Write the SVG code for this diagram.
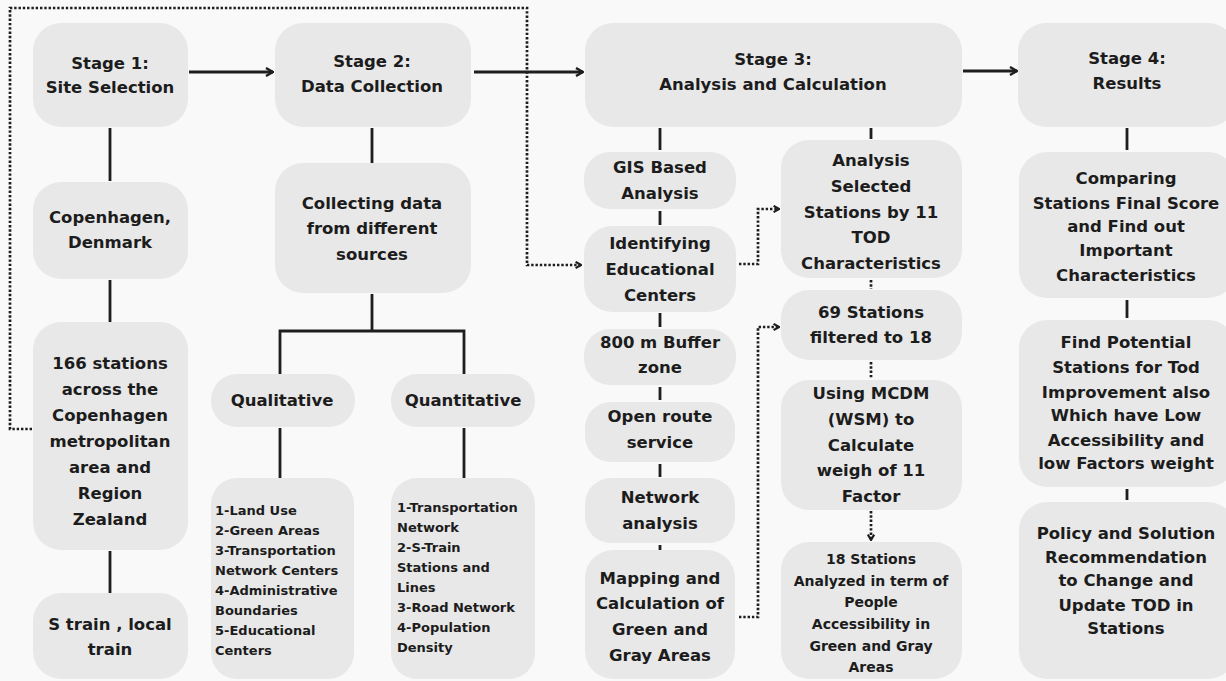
<svg xmlns="http://www.w3.org/2000/svg" width="1226" height="681" viewBox="0 0 1226 681">
<defs>
<style>
.bg{fill:#f9f9f9}
.box{fill:#e8e8e8}
.t{font-family:"DejaVu Sans","Liberation Sans",sans-serif;font-weight:700;font-size:16.5px;fill:#1c1c1c;text-anchor:middle}
.s{font-family:"DejaVu Sans","Liberation Sans",sans-serif;font-weight:700;font-size:13px;fill:#1c1c1c}
.m{font-family:"DejaVu Sans","Liberation Sans",sans-serif;font-weight:700;font-size:14px;fill:#1c1c1c;text-anchor:middle}
.ln{stroke:#1e1e1e;stroke-width:2.8;fill:none}
.dot{stroke:#1e1e1e;stroke-width:2.7;fill:none;stroke-dasharray:2.4 1.9}
</style>
<marker id="ah" viewBox="0 0 10 10" refX="9" refY="5" markerWidth="10" markerHeight="10" markerUnits="userSpaceOnUse" orient="auto">
<path d="M2,1 L9,5 L2,9" fill="none" stroke="#1e1e1e" stroke-width="2.4"/>
</marker>
<marker id="dh" viewBox="0 0 10 10" refX="9" refY="5" markerWidth="9" markerHeight="9" markerUnits="userSpaceOnUse" orient="auto">
<path d="M3,1.5 L9,5 L3,8.5" fill="none" stroke="#1e1e1e" stroke-width="2.4"/>
</marker>
</defs>
<rect class="bg" x="0" y="0" width="1226" height="681"/>

<g id="connectors">
<line class="ln" x1="189" y1="72" x2="273" y2="72" marker-end="url(#ah)"/>
<line class="ln" x1="474" y1="72" x2="583" y2="72" marker-end="url(#ah)"/>
<line class="ln" x1="963" y1="71" x2="1017" y2="71" marker-end="url(#ah)"/>
<path class="ln" d="M110,128 V181 M110,280 V322 M110,551 V593"/>
<path class="ln" d="M372,128 V163 M372,294 V331 M280,374 V331 H464 V374 M280,428 V478 M464,428 V478"/>
<path class="ln" d="M660,128 V150 M660,211 V225 M660,313 V327 M660,387 V400 M660,464 V477 M660,545 V550"/>
<path class="ln" d="M871,128 V139 M1127,128 V150 M1127,300 V318 M1127,489 V500"/>
<path class="dot" d="M32,429 H10 V8 H527 V265 H581" marker-end="url(#dh)"/>
<path class="dot" d="M739,264 H758 V209 H779" marker-end="url(#dh)"/>
<path class="dot" d="M739,617 H758 V327 H779" marker-end="url(#dh)"/>
<path class="dot" d="M871,280 V289 M871,362 V378"/>
<path class="dot" d="M871,511 V540" marker-end="url(#dh)"/>
</g>

<g id="stage1">
<rect class="box" x="33" y="23" width="155" height="104" rx="28"/>
<text class="t"><tspan x="110" y="69">Stage 1:</tspan><tspan x="110" y="93">Site Selection</tspan></text>
</g>
<g id="copenhagen">
<rect class="box" x="33" y="182" width="155" height="97" rx="28"/>
<text class="t"><tspan x="110" y="223">Copenhagen,</tspan><tspan x="110" y="248">Denmark</tspan></text>
</g>
<g id="stations166">
<rect class="box" x="33" y="322" width="155" height="228" rx="28"/>
<text class="t"><tspan x="110" y="369">166 stations</tspan><tspan x="110" y="395">across the</tspan><tspan x="110" y="421">Copenhagen</tspan><tspan x="110" y="447">metropolitan</tspan><tspan x="110" y="473">area and</tspan><tspan x="110" y="499">Region</tspan><tspan x="110" y="525">Zealand</tspan></text>
</g>
<g id="strain">
<rect class="box" x="33" y="593" width="155" height="86" rx="28"/>
<text class="t"><tspan x="110" y="630">S train , local</tspan><tspan x="110" y="655">train</tspan></text>
</g>

<g id="stage2">
<rect class="box" x="275" y="23" width="196" height="104" rx="28"/>
<text class="t"><tspan x="372" y="67">Stage 2:</tspan><tspan x="372" y="92">Data Collection</tspan></text>
</g>
<g id="collecting">
<rect class="box" x="275" y="163" width="196" height="130" rx="28"/>
<text class="t"><tspan x="372" y="209">Collecting data</tspan><tspan x="372" y="234">from different</tspan><tspan x="372" y="260">sources</tspan></text>
</g>
<g id="qualitative">
<rect class="box" x="211" y="374" width="144" height="53" rx="26"/>
<text class="t" x="282" y="406">Qualitative</text>
</g>
<g id="quantitative">
<rect class="box" x="391" y="374" width="144" height="53" rx="26"/>
<text class="t" x="463" y="406">Quantitative</text>
</g>
<g id="qual-list">
<rect class="box" x="211" y="478" width="143" height="201" rx="26"/>
<text class="s"><tspan x="215" y="515">1-Land Use</tspan><tspan x="215" y="535">2-Green Areas</tspan><tspan x="215" y="555">3-Transportation</tspan><tspan x="215" y="575">Network Centers</tspan><tspan x="215" y="595">4-Administrative</tspan><tspan x="215" y="615">Boundaries</tspan><tspan x="215" y="635">5-Educational</tspan><tspan x="215" y="655">Centers</tspan></text>
</g>
<g id="quant-list">
<rect class="box" x="391" y="478" width="144" height="201" rx="26"/>
<text class="s"><tspan x="397" y="512">1-Transportation</tspan><tspan x="397" y="532">Network</tspan><tspan x="397" y="552">2-S-Train</tspan><tspan x="397" y="572">Stations and</tspan><tspan x="397" y="592">Lines</tspan><tspan x="397" y="612">3-Road Network</tspan><tspan x="397" y="632">4-Population</tspan><tspan x="397" y="652">Density</tspan></text>
</g>

<g id="stage3">
<rect class="box" x="585" y="23" width="377" height="104" rx="28"/>
<text class="t"><tspan x="773" y="65">Stage 3:</tspan><tspan x="773" y="90">Analysis and Calculation</tspan></text>
</g>
<g id="gis">
<rect class="box" x="584" y="152" width="152" height="57" rx="26"/>
<text class="t"><tspan x="660" y="173">GIS Based</tspan><tspan x="660" y="199">Analysis</tspan></text>
</g>
<g id="identifying">
<rect class="box" x="584" y="226" width="152" height="86" rx="28"/>
<text class="t"><tspan x="660" y="249">Identifying</tspan><tspan x="660" y="275">Educational</tspan><tspan x="660" y="301">Centers</tspan></text>
</g>
<g id="buffer">
<rect class="box" x="584" y="329" width="152" height="56" rx="26"/>
<text class="t"><tspan x="660" y="348">800 m Buffer</tspan><tspan x="660" y="373">zone</tspan></text>
</g>
<g id="openroute">
<rect class="box" x="585" y="402" width="150" height="60" rx="26"/>
<text class="t"><tspan x="660" y="422">Open route</tspan><tspan x="660" y="448">service</tspan></text>
</g>
<g id="network">
<rect class="box" x="585" y="478" width="150" height="65" rx="26"/>
<text class="t"><tspan x="660" y="503">Network</tspan><tspan x="660" y="529">analysis</tspan></text>
</g>
<g id="mapping">
<rect class="box" x="585" y="550" width="150" height="129" rx="28"/>
<text class="t"><tspan x="660" y="584">Mapping and</tspan><tspan x="660" y="609">Calculation of</tspan><tspan x="660" y="635">Green and</tspan><tspan x="660" y="661">Gray Areas</tspan></text>
</g>
<g id="analysis11">
<rect class="box" x="781" y="140" width="181" height="138" rx="28"/>
<text class="t"><tspan x="871" y="166">Analysis</tspan><tspan x="871" y="192">Selected</tspan><tspan x="871" y="218">Stations by 11</tspan><tspan x="871" y="243">TOD</tspan><tspan x="871" y="269">Characteristics</tspan></text>
</g>
<g id="filtered">
<rect class="box" x="781" y="290" width="181" height="70" rx="28"/>
<text class="t"><tspan x="871" y="318">69 Stations</tspan><tspan x="871" y="343">filtered to 18</tspan></text>
</g>
<g id="mcdm">
<rect class="box" x="781" y="380" width="181" height="130" rx="28"/>
<text class="t"><tspan x="871" y="399">Using MCDM</tspan><tspan x="871" y="425">(WSM) to</tspan><tspan x="871" y="451">Calculate</tspan><tspan x="871" y="476">weigh of 11</tspan><tspan x="871" y="502">Factor</tspan></text>
</g>
<g id="stations18">
<rect class="box" x="781" y="542" width="181" height="137" rx="28"/>
<text class="m"><tspan x="871" y="564">18 Stations</tspan><tspan x="871" y="586">Analyzed in term of</tspan><tspan x="871" y="607">People</tspan><tspan x="871" y="629">Accessibility in</tspan><tspan x="871" y="651">Green and Gray</tspan><tspan x="871" y="672">Areas</tspan></text>
</g>

<g id="stage4">
<rect class="box" x="1018" y="23" width="218" height="104" rx="28"/>
<text class="t"><tspan x="1127" y="64">Stage 4:</tspan><tspan x="1127" y="89">Results</tspan></text>
</g>
<g id="comparing">
<rect class="box" x="1019" y="152" width="217" height="146" rx="28"/>
<text class="t"><tspan x="1126" y="184">Comparing</tspan><tspan x="1126" y="209">Stations Final Score</tspan><tspan x="1126" y="232">and Find out</tspan><tspan x="1126" y="256">Important</tspan><tspan x="1126" y="281">Characteristics</tspan></text>
</g>
<g id="potential">
<rect class="box" x="1019" y="320" width="217" height="167" rx="28"/>
<text class="t"><tspan x="1126" y="348">Find  Potential</tspan><tspan x="1126" y="373">Stations for Tod</tspan><tspan x="1126" y="398">Improvement also</tspan><tspan x="1126" y="421">Which have Low</tspan><tspan x="1126" y="446">Accessibility and</tspan><tspan x="1126" y="469">low Factors weight</tspan></text>
</g>
<g id="policy">
<rect class="box" x="1019" y="502" width="217" height="177" rx="28"/>
<text class="t"><tspan x="1126" y="539">Policy and Solution</tspan><tspan x="1126" y="563">Recommendation</tspan><tspan x="1126" y="586">to Change and</tspan><tspan x="1126" y="611">Update TOD in</tspan><tspan x="1126" y="634">Stations</tspan></text>
</g>
</svg>
